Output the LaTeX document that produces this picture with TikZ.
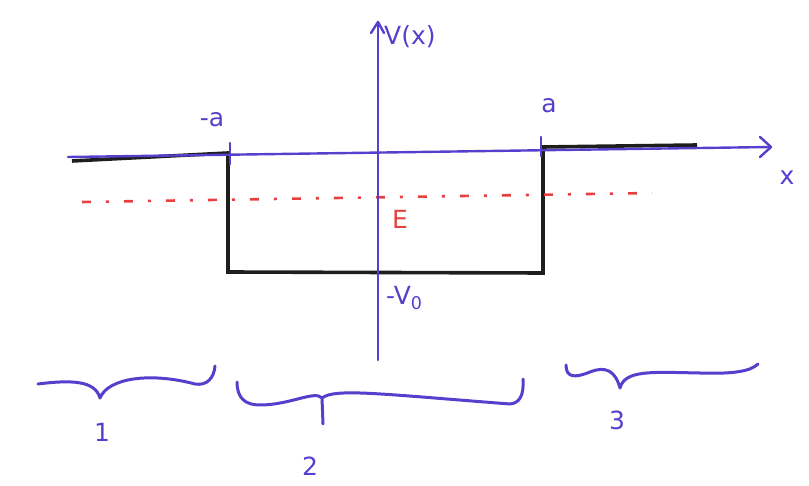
\documentclass[tikz,border=0pt]{standalone}
\usepackage{fontspec}
\setmainfont{DejaVu Sans}
\usetikzlibrary{arrows.meta,calc}
\definecolor{pen}{RGB}{88,62,205}
\definecolor{redpen}{RGB}{232,64,64}
\definecolor{ink}{RGB}{30,30,30}
\tikzset{
  axis/.style={draw=pen, line width=2.4pt, line cap=round, line join=round},
  well/.style={draw=ink, line width=3.6pt, line join=miter},
  energy/.style={draw=redpen, line width=2.6pt, dash pattern=on 9pt off 15pt on 3pt off 15pt},
  bracepath/.style={draw=pen, line width=3pt, line cap=round, line join=round},
  lbl/.style={text=pen, font=\fontsize{25}{25}\selectfont, inner sep=0pt},
  rlbl/.style={text=redpen, font=\fontsize{25}{25}\selectfont, inner sep=0pt}
}
\begin{document}
\begin{tikzpicture}[x=1pt,y=-1pt]
\useasboundingbox (0,0) rectangle (809,486);
% coordinates
\coordinate (xl) at (68,157);
\coordinate (xr) at (770,147);
\coordinate (yb) at (378,360);
\coordinate (yt) at (378,22);
\coordinate (ma) at (230,154);
\coordinate (pa) at (541,148);
% potential well
\draw[well] (72,161) -- (228,153) -- (228,272) -- (543,273) -- (543,147) -- (697,145);
% energy line
\coordinate (el) at (82,202);
\coordinate (er) at (652,193);
\draw[energy] (el) -- (er);
% axes
\draw[axis] (xl) -- (xr);
\draw[axis] (760,137) -- (771,147) -- (760,157);
\draw[axis] (yb) -- (yt);
\draw[axis] (371,33) -- (378,22) -- (384,33);
% ticks
\draw[axis] ($(ma)+(0,-11)$) -- ($(ma)+(0,10)$);
\draw[axis] ($(pa)+(0,-11)$) -- ($(pa)+(0,8)$);
% labels
\node[lbl, anchor=west] (vx) at (384,37) {V(x)};
\node[lbl] (xlab) at (787,178) {x};
\node[lbl] (mal) at (212,120) {-a};
\node[lbl] (pal) at (549,106) {a};
\node[rlbl] (elab) at (400,219) {E};
\node[lbl, anchor=west] (v0) at (386,298) {-V\textsubscript{0}};
% braces
\draw[bracepath] (38,384) .. controls (70,380) and (95,380) .. (100,398)
  (100,398) .. controls (108,378) and (150,372) .. (195,384) .. controls (207,386) and (214,378) .. (215,366);
\draw[bracepath] (237,382) .. controls (237,398) and (245,405) .. (260,405) .. controls (290,405) and (315,390) .. (322,398) -- (323,424)
  (322,398) .. controls (335,388) and (380,394) .. (510,404) .. controls (520,403) and (524,395) .. (523,379);
\draw[bracepath] (566,365) .. controls (566,378) and (575,378) .. (590,372) .. controls (605,366) and (615,370) .. (620,388)
  (620,388) .. controls (625,370) and (650,372) .. (700,373) .. controls (730,374) and (750,372) .. (758,364);
\node[lbl] (n1) at (102,432) {1};
\node[lbl] (n2) at (310,466) {2};
\node[lbl] (n3) at (617,420) {3};
\end{tikzpicture}
\end{document}
